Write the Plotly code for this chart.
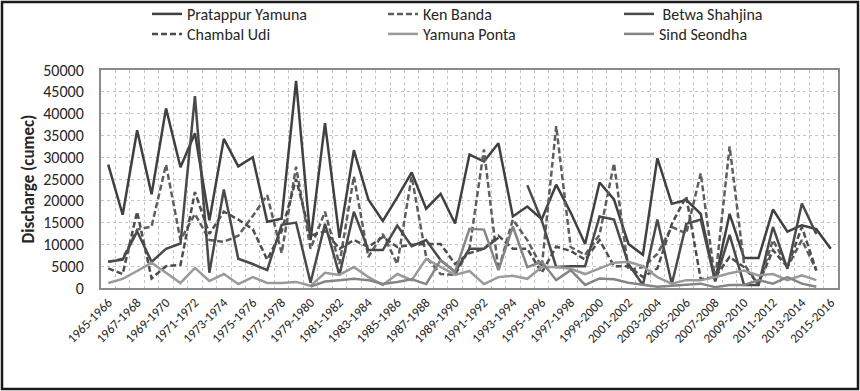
import plotly.graph_objects as go

years = [f"{y}-{y+1}" for y in range(1965, 2016)]

pratappur_yamuna = [
    28300, 16800, 36200, 21500, 41200, 27700, 35500, 15500, 34200, 27900,
    30000, 15200, 15900, 47500, 11000, 37800, 11500, 31600, 20300, 15400,
    20800, 26500, 18200, 21600, 14800, 30600, 29000, 33200, 16400, 18700,
    15800, 23700, 17300, 10100, 24200, 20300, 10100, 7600, 29800, 19300,
    20200, 17000, 1800, 17000, 6900, 6900, 18000, 12900, 14400, 13500,
    9000]

ken_banda = [
    6000, 6700, 13400, 14100, 28300, 11000, 17000, 11000, 10600, 12000,
    16500, 21300, 8000, 27800, 9000, 17500, 5500, 25600, 7100, 12400,
    5500, 25600, 7100, 3200, 3000, 9000, 31800, 4100, 15700, 11000,
    4800, 37100, 9400, 7600, 12200, 28600, 4100, 4800, 7800, 14000,
    12500, 26300, 1800, 32500, 5500, 700, 11000, 4800, 11000, 4100,
    None]

betwa_shahjina = [
    6000, 6500, 13000, 6000, 9000, 10200, 44000, 3500, 22600, 6700,
    5500, 4100, 14500, 15000, 1200, 14700, 3000, 17500, 8700, 8700,
    14300, 9600, 11000, 6400, 3700, 9000, 9000, 11500, None, 23600,
    15500, 4800, 5000, 5000, 16400, 15700, 5500, 700, 15700, 900,
    14700, 15700, 1500, 12200, 700, 700, 14000, 4400, 19400, 12400,
    None]

chambal_udi = [
    4500, 3200, 17500, 2200, 5000, 5300, 22000, 12400, 17500, 15700,
    13500, 6500, 13000, 25000, 12000, 13000, 9000, 11000, 9400, 11700,
    9400, 9900, 10100, 10100, 5500, 8000, 9000, 12000, 9000, 9000,
    3500, 9500, 8500, 6500, 11000, 5000, 5000, 2500, 4500, 14700,
    21000, 2000, 2500, 7100, 4800, 900, 8700, 4800, 14000, 4000,
    None]

yamuna_ponta = [
    1150, 2100, 3900, 5800, 3500, 1150, 4600, 1600, 3200, 900,
    2500, 1150, 1150, 1400, 500, 3500, 3000, 4800, 2500, 700,
    3200, 1800, 6700, 4800, 3000, 3900, 900, 2500, 2800, 2100,
    4800, 4800, 4400, 3200, 4500, 5800, 6000, 5000, 2500, 1000,
    1800, 1800, 2500, 3400, 4000, 2900, 3200, 1800, 2900, 1800,
    None]

sind_seondha = [
    None, None, None, None, None, None, None, None, None, None,
    None, None, None, None, 300, 1500, 1800, 2100, 1800, 900,
    1400, 2000, 900, 6400, 3700, 13600, 13400, 4100, 14100, 4800,
    6000, 1800, 4100, 700, 2200, 2000, 1200, 800, 300, 500,
    800, 1000, 200, 700, 700, 1800, 1000, 2500, 1000, 300,
    None]

series = [
    ("Pratappur Yamuna", pratappur_yamuna, "#404040", "solid"),
    ("Ken Banda", ken_banda, "#5e5e5e", "6px,3px"),
    (" Betwa Shahjina", betwa_shahjina, "#4a4a4a", "solid"),
    ("Chambal Udi", chambal_udi, "#4d4d4d", "6px,3px"),
    ("Yamuna Ponta", yamuna_ponta, "#9a9a9a", "solid"),
    ("Sind Seondha", sind_seondha, "#858585", "solid"),
]

FONT = "Carlito, 'Liberation Sans Narrow', 'Arial Narrow', sans-serif"

W, H = 860, 391
L, R, T, B = 101, 22, 70, 103
PW, PH = W - L - R, H - T - B

def px_x(x):
    return (x - L) / PW

def px_y(y):
    return (H - B - y) / PH

# legend slot positions (pixel), one legend per entry
legend_pos = [(147, 14), (383, 14), (619, 14), (147, 34), (383, 34), (619, 34)]

fig = go.Figure()
for k, (name, vals, color, dash) in enumerate(series):
    lg = "legend" if k == 0 else f"legend{k+1}"
    fig.add_trace(go.Scatter(
        x=years, y=vals, mode="lines", name=name,
        line=dict(color=color, width=2.5, dash=dash),
        connectgaps=False, legend=lg,
    ))

layout_legends = {}
for k, (lx, ly) in enumerate(legend_pos):
    key = "legend" if k == 0 else f"legend{k+1}"
    layout_legends[key] = dict(
        x=px_x(lx), y=px_y(ly), xanchor="left", yanchor="middle",
        font=dict(family=FONT, size=16, color="#262626"),
        bgcolor="rgba(0,0,0,0)", borderwidth=0,
    )

tick_text = [y if i % 2 == 0 else "" for i, y in enumerate(years)]

fig.update_layout(
    width=W, height=H,
    margin=dict(l=L, r=R, t=T, b=B, autoexpand=False),
    paper_bgcolor="white", plot_bgcolor="white",
    font=dict(family=FONT, color="#262626"),
    showlegend=True,
    **layout_legends,
    xaxis=dict(
        type="category", tickmode="array", tickvals=years, ticktext=tick_text,
        tickangle=-45, tickson="boundaries", ticks="",
        showgrid=True, griddash="dot", gridcolor="#c4c4c4", gridwidth=1,
        showline=True, mirror=True, linecolor="#8a8a8a", linewidth=2,
        tickfont=dict(family=FONT, size=13, color="#262626"),
        range=[-0.5, 50.5], automargin=False,
    ),
    yaxis=dict(
        range=[0, 50000], dtick=5000, tick0=0, tickformat="d",
        showgrid=True, griddash="dot", gridcolor="#c4c4c4", gridwidth=1,
        showline=True, mirror=True, linecolor="#8a8a8a", linewidth=2,
        zeroline=False, ticks="", ticklabelstandoff=12, automargin=False,
        tickfont=dict(family=FONT, size=16, color="#262626"),
        title=dict(text="<b>Discharge (cumec)</b>", standoff=4,
                   font=dict(family=FONT, size=17, color="#262626")),
    ),
    shapes=[dict(type="rect", xref="paper", yref="paper",
                 x0=px_x(2), x1=px_x(858), y0=px_y(389), y1=px_y(2),
                 line=dict(color="#1a1a1a", width=2.5), layer="below")],
)

fig.write_html(
    "out.html",
    config={"displayModeBar": False},
    post_script="document.body.style.margin='0px';document.body.style.padding='0px';",
)
